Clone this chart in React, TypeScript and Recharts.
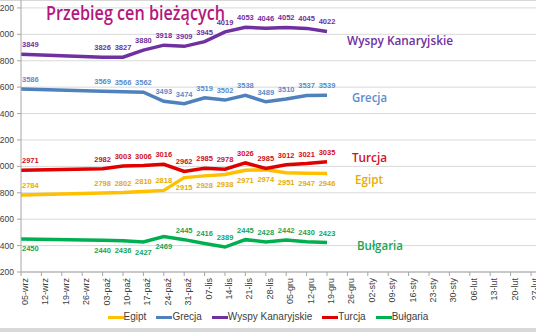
import React from 'react';
import { LineChart, Line, XAxis, YAxis, CartesianGrid, LabelList } from 'recharts';

// weekly snapshots, only 05-wrz and 03-paź .. 19-gru carry prices
const weeks = [
  '05-wrz', '12-wrz', '19-wrz', '26-wrz', '03-paź', '10-paź', '17-paź', '24-paź', '31-paź',
  '07-lis', '14-lis', '21-lis', '28-lis', '05-gru', '12-gru', '19-gru', '26-gru', '02-sty',
  '09-sty', '16-sty', '23-sty', '30-sty', '06-lut', '13-lut', '20-lut', '27-lut',
];

const egipt = [2784, null, null, null, 2798, 2802, 2810, 2818, 2915, 2928, 2938, 2971, 2974, 2951, 2947, 2946,
  null, null, null, null, null, null, null, null, null, null];
const grecja = [3586, null, null, null, 3569, 3566, 3562, 3493, 3474, 3519, 3502, 3538, 3489, 3510, 3537, 3539,
  null, null, null, null, null, null, null, null, null, null];
const wyspy = [3849, null, null, null, 3826, 3827, 3880, 3918, 3909, 3945, 4019, 4053, 4046, 4052, 4045, 4022,
  null, null, null, null, null, null, null, null, null, null];
const turcja = [2971, null, null, null, 2982, 3003, 3006, 3016, 2962, 2985, 2978, 3026, 2985, 3012, 3021, 3035,
  null, null, null, null, null, null, null, null, null, null];
const bulgaria = [2450, null, null, null, 2440, 2436, 2427, 2469, 2445, 2416, 2389, 2445, 2428, 2442, 2430, 2423,
  null, null, null, null, null, null, null, null, null, null];

const yTicks = [2200, 2400, 2600, 2800, 3000, 3200, 3400, 3600, 3800, 4000, 4200];

const series = [
  { key: 'egipt', name: 'Egipt', values: egipt },
  { key: 'grecja', name: 'Grecja', values: grecja },
  { key: 'wyspy', name: 'Wyspy Kanaryjskie', values: wyspy },
  { key: 'turcja', name: 'Turcja', values: turcja },
  { key: 'bulgaria', name: 'Bułgaria', values: bulgaria },
];

// looks: colours, where the value labels sit, where the series name goes
const looks: Record<string, any> = {
  egipt: { line: '#ffc000', text: '#e6ac00', below: (i: number) => i >= 8, nameDx: 28, nameDy: 10.5, nameLen: 28 },
  grecja: { line: '#4f81bd', text: '#5a8ccc', below: () => false, nameDx: 25, nameDy: 7, nameLen: 35 },
  wyspy: { line: '#7030a0', text: '#7030a0', below: () => false, nameDx: 20, nameDy: 13.5, nameLen: 106 },
  turcja: { line: '#e00000', text: '#d0101c', below: () => false, nameDx: 25, nameDy: 0.5, nameLen: 35 },
  bulgaria: { line: '#00b050', text: '#1aa455', below: (i: number) => i < 8, nameDx: 30, nameDy: 7.5, nameLen: 46 },
};

const data = weeks.map((week, i) => {
  const row: Record<string, any> = { week };
  series.forEach((s) => {
    row[s.key] = s.values[i];
  });
  return row;
});

const FONT = '"Liberation Sans", Arial, sans-serif';

function lastIndex(values: (number | null)[]) {
  let last = -1;
  values.forEach((v, i) => {
    if (v != null) last = i;
  });
  return last;
}

function makeLabel(s: (typeof series)[number]) {
  const look = looks[s.key];
  const last = lastIndex(s.values);
  return (props: any) => {
    const vb = props.viewBox || {};
    const x = props.x ?? vb.x;
    const y = props.y ?? vb.y;
    const { value, index } = props;
    if (value == null || x == null || y == null) return null;
    const below = look.below(index);
    return (
      <g>
        <text
          x={index === 0 ? x + 1 : x}
          y={below ? y + 12.5 : y - 7}
          textAnchor={index === 0 ? 'start' : 'middle'}
          fontSize={7.5}
          fontWeight="bold"
          fontFamily={FONT}
          fill={look.text}
        >
          {value}
        </text>
        {index === last && (
          <text
            x={x + look.nameDx}
            y={y + look.nameDy}
            fontSize={12.5}
            fontWeight={600}
            fontFamily='"Open Sans", sans-serif'
            fill={look.text}
            textLength={look.nameLen}
            lengthAdjust="spacingAndGlyphs"
          >
            {s.name}
          </text>
        )}
      </g>
    );
  };
}

const WeekTick = (props: any) => {
  const { x, y, payload } = props;
  return (
    <text
      transform={`translate(${x + 7},${y}) rotate(-90)`}
      textAnchor="end"
      fontSize={9}
      fontFamily={FONT}
      fill="#404040"
    >
      {payload.value}
    </text>
  );
};

export default function App() {
  return (
    <div
      style={{
        position: 'absolute',
        left: 0,
        top: 0,
        width: 536,
        height: 332,
        overflow: 'hidden',
        background: '#fff',
      }}
    >
      <div style={{ position: 'absolute', left: 0, top: 0, width: 536, height: 1, background: '#d6d6d6' }} />
      <LineChart width={536} height={328} data={data} margin={{ top: 0, right: 0, left: 0, bottom: 0 }}>
        <CartesianGrid vertical={false} stroke="#d9d9d9" />
        <XAxis
          dataKey="week"
          interval={0}
          height={56}
          tickSize={4}
          tickMargin={2}
          padding={{ left: 0, right: 5 }}
          tick={<WeekTick />}
          axisLine={{ stroke: '#a6a6a6' }}
          tickLine={{ stroke: '#a6a6a6' }}
        />
        <YAxis
          width={21}
          domain={[2200, 4260]}
          ticks={yTicks}
          allowDataOverflow
          tickSize={4}
          tickMargin={3}
          tick={{ fontSize: 8.5, fill: '#404040', fontFamily: FONT }}
          axisLine={{ stroke: '#a6a6a6' }}
          tickLine={{ stroke: '#a6a6a6' }}
        />
        {series.map((s) => (
          <Line
            key={s.key}
            dataKey={s.key}
            name={s.name}
            type="linear"
            stroke={looks[s.key].line}
            strokeWidth={3.5}
            dot={false}
            connectNulls
            isAnimationActive={false}
          >
            <LabelList dataKey={s.key} content={makeLabel(s)} />
          </Line>
        ))}
      </LineChart>
      <svg
        width={536}
        height={30}
        style={{ position: 'absolute', left: 0, top: 0, pointerEvents: 'none' }}
      >
        <text
          x={46}
          y={20}
          fontSize={19}
          fontWeight={600}
          fontFamily='"Open Sans", sans-serif'
          fill="#b5177e"
          textLength={179}
          lengthAdjust="spacingAndGlyphs"
        >
          Przebieg cen bieżących
        </text>
      </svg>
      <div
        style={{
          position: 'absolute',
          left: 0,
          top: 310,
          width: 536,
          display: 'flex',
          justifyContent: 'center',
          gap: 10,
          fontFamily: FONT,
          fontSize: 10,
          color: '#404040',
          lineHeight: '14px',
        }}
      >
        {series.map((s) => (
          <div key={s.key} style={{ display: 'flex', alignItems: 'center' }}>
            <span style={{ display: 'inline-block', width: 16, height: 3, background: looks[s.key].line }} />
            <span>{s.name}</span>
          </div>
        ))}
      </div>
      <div style={{ position: 'absolute', left: 0, top: 328, width: 536, height: 4, background: '#d9d9d9' }} />
    </div>
  );
}
